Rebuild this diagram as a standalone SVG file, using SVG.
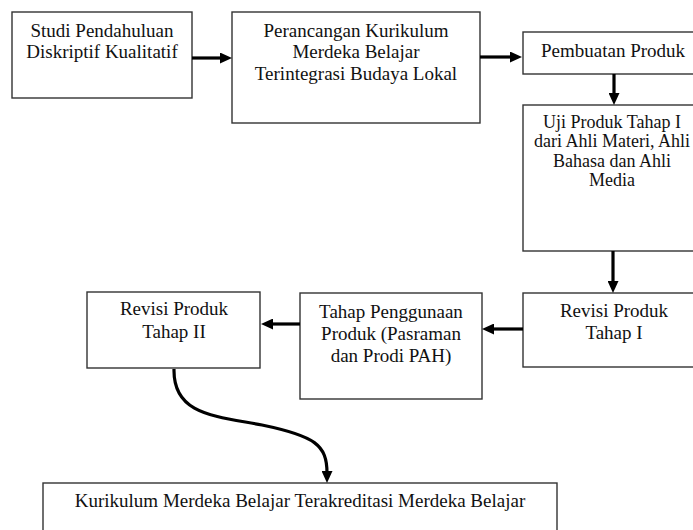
<svg xmlns="http://www.w3.org/2000/svg" width="693" height="530" viewBox="0 0 693 530">
<style>
.box{fill:#fff;stroke:#333;stroke-width:1.4}
.t{font-family:"Liberation Serif","Times New Roman",serif;font-size:19px;fill:#111;text-anchor:middle}
.s{font-size:18px}
.c{fill:none;stroke:#000;stroke-width:3.2}
</style>
<defs>
<marker id="ah" viewBox="0 0 12 11" refX="2" refY="5.5" markerWidth="12" markerHeight="11" markerUnits="userSpaceOnUse" orient="auto">
<path d="M0,0 L12,5.5 L0,11 z" fill="#000"/>
</marker>
</defs>
<rect width="693" height="530" fill="#fff"/>
<g id="n1">
<rect class="box" x="12" y="12" width="180" height="86"/>
<text class="t" x="102" y="37">Studi Pendahuluan</text>
<text class="t" x="102" y="58">Diskriptif Kualitatif</text>
</g>
<g id="n2">
<rect class="box" x="232" y="12" width="248" height="111"/>
<text class="t" x="356" y="37">Perancangan Kurikulum</text>
<text class="t" x="356" y="58">Merdeka Belajar</text>
<text class="t" x="356" y="80">Terintegrasi Budaya Lokal</text>
</g>
<g id="n3">
<rect class="box" x="523" y="32" width="200" height="42"/>
<text class="t" x="613" y="57">Pembuatan Produk</text>
</g>
<g id="n4">
<rect class="box" x="523" y="105" width="200" height="146"/>
<text class="t s" x="612" y="128">Uji Produk Tahap I</text>
<text class="t s" x="612" y="147">dari Ahli Materi, Ahli</text>
<text class="t s" x="612" y="167">Bahasa dan Ahli</text>
<text class="t s" x="612" y="186">Media</text>
</g>
<g id="n5">
<rect class="box" x="523" y="293" width="200" height="74"/>
<text class="t" x="614" y="317">Revisi Produk</text>
<text class="t" x="614" y="339">Tahap I</text>
</g>
<g id="n6">
<rect class="box" x="300" y="293" width="182" height="106"/>
<text class="t" x="391" y="318">Tahap Penggunaan</text>
<text class="t" x="391" y="340">Produk (Pasraman</text>
<text class="t" x="391" y="362">dan Prodi PAH)</text>
</g>
<g id="n7">
<rect class="box" x="87" y="292" width="173" height="76"/>
<text class="t" x="174" y="315">Revisi Produk</text>
<text class="t" x="174" y="338">Tahap II</text>
</g>
<g id="n8">
<rect class="box" x="43" y="483" width="514" height="60"/>
<text class="t" x="300" y="507">Kurikulum Merdeka Belajar Terakreditasi Merdeka Belajar</text>
</g>
<g id="connectors">
<line class="c" x1="192" y1="58" x2="222" y2="58" marker-end="url(#ah)"/>
<line class="c" x1="480" y1="57" x2="512" y2="57" marker-end="url(#ah)"/>
<line class="c" x1="614" y1="74" x2="614" y2="95" marker-end="url(#ah)"/>
<line class="c" x1="613" y1="251" x2="613" y2="283" marker-end="url(#ah)"/>
<line class="c" x1="523" y1="329" x2="492" y2="329" marker-end="url(#ah)"/>
<line class="c" x1="300" y1="324" x2="271" y2="324" marker-end="url(#ah)"/>
<path class="c" d="M174,369 C173,415 215,416 262,425 C315,436 327,445 327,473" marker-end="url(#ah)"/>
</g>
</svg>
